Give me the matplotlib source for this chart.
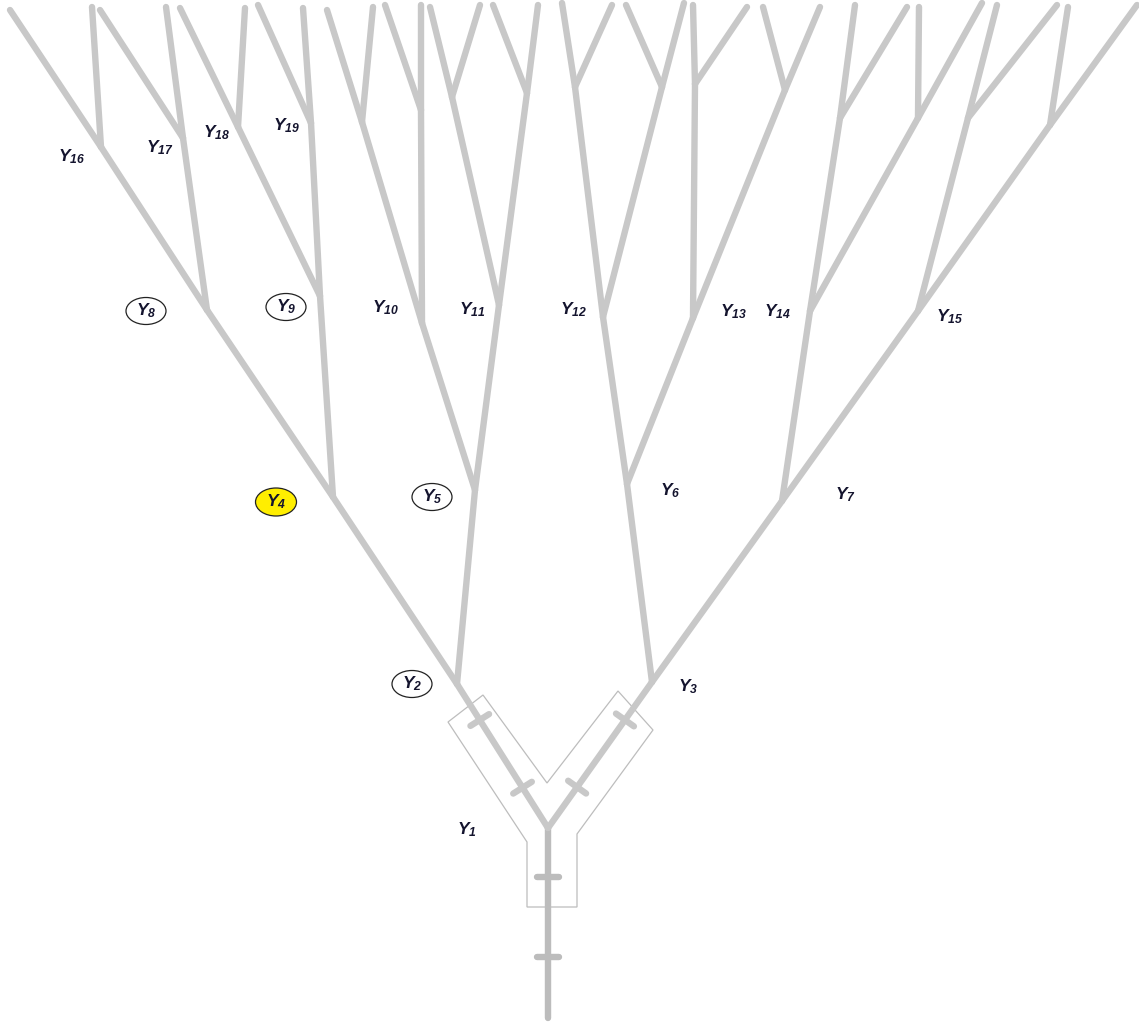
import matplotlib
matplotlib.use("Agg")
import matplotlib.pyplot as plt
from matplotlib.patches import Ellipse, Polygon

plt.rcParams['mathtext.fontset'] = 'custom'
plt.rcParams['mathtext.rm'] = 'Liberation Sans:bold:italic'
plt.rcParams['mathtext.it'] = 'Liberation Sans:bold:italic'
plt.rcParams['mathtext.bf'] = 'Liberation Sans:bold:italic'

# ---------------- data ----------------
root_xy = (548, 1018)

node_names = ['Y1', 'Y2', 'Y3', 'Y4', 'Y5', 'Y6', 'Y7', 'Y8', 'Y9', 'Y10', 'Y11',
              'Y12', 'Y13', 'Y14', 'Y15', 'Y16', 'Y17', 'Y18', 'Y19', 'Y20', 'Y21',
              'Y22', 'Y23', 'Y24', 'Y25', 'Y26', 'Y27', 'Y28', 'Y29', 'Y30', 'Y31']
node_x = [548, 457, 652, 333, 475, 627, 782, 207, 320, 422, 499,
          603, 693, 810, 918, 101, 183, 238, 311, 362, 421,
          452, 527, 575, 662, 695, 785, 840, 918, 968, 1050]
node_y = [828, 684, 682, 497, 490, 484, 501, 310, 296, 323, 305,
          317, 318, 311, 311, 147, 138, 127, 123, 122, 110,
          97, 93, 87, 87, 84, 90, 118, 118, 118, 125]
node_parent = ['root', 'Y1', 'Y1', 'Y2', 'Y2', 'Y3', 'Y3', 'Y4', 'Y4', 'Y5', 'Y5',
               'Y6', 'Y6', 'Y7', 'Y7', 'Y8', 'Y8', 'Y9', 'Y9', 'Y10', 'Y10',
               'Y11', 'Y11', 'Y12', 'Y12', 'Y13', 'Y13', 'Y14', 'Y14', 'Y15', 'Y15']

leaf_parent = ['Y16', 'Y16', 'Y17', 'Y17', 'Y18', 'Y18', 'Y19', 'Y19',
               'Y20', 'Y20', 'Y21', 'Y21', 'Y22', 'Y22', 'Y23', 'Y23',
               'Y24', 'Y24', 'Y25', 'Y25', 'Y26', 'Y26', 'Y27', 'Y27',
               'Y28', 'Y28', 'Y29', 'Y29', 'Y30', 'Y30', 'Y31', 'Y31']
leaf_x = [10, 92, 100, 166, 180, 245, 258, 303,
          327, 373, 385, 421, 430, 480, 493, 538,
          562, 612, 626, 684, 693, 747, 763, 820,
          855, 907, 919, 982, 997, 1057, 1068, 1137]
leaf_y = [10, 7, 10, 7, 8, 8, 5, 8,
          10, 7, 5, 5, 7, 5, 5, 5,
          3, 5, 5, 3, 5, 7, 7, 7,
          5, 7, 7, 3, 5, 5, 7, 5]

# labels shown on the chart
label_text = ['Y1', 'Y2', 'Y3', 'Y4', 'Y5', 'Y6', 'Y7', 'Y8', 'Y9', 'Y10',
              'Y11', 'Y12', 'Y13', 'Y14', 'Y15', 'Y16', 'Y17', 'Y18', 'Y19']
label_x = [467, 412, 688, 276, 432, 670, 845, 146, 286, 385,
           472, 573, 733, 777, 950, 72, 160, 217, 287]
label_y = [830, 684, 687, 502, 497, 491, 495, 311, 307, 308,
           310, 310, 312, 312, 317, 157, 148, 133, 126]
label_style = ['plain', 'circle', 'plain', 'yellow', 'circle', 'plain', 'plain',
               'circle', 'circle', 'plain', 'plain', 'plain', 'plain', 'plain',
               'plain', 'plain', 'plain', 'plain', 'plain']

# cross marks on the first branches: (parent, child, fraction from parent)
mark_edges = [('root', 'Y1', 0.32), ('root', 'Y1', 0.74),
              ('Y1', 'Y2', 0.28), ('Y1', 'Y2', 0.75),
              ('Y1', 'Y3', 0.28), ('Y1', 'Y3', 0.74)]

outline_x = [527, 527, 448, 483, 547, 618, 653, 577, 577]
outline_y = [907, 842, 722, 695, 783, 691, 730, 834, 907]

# ---------------- drawing ----------------
W, H = 1139, 1022
fig = plt.figure(figsize=(W / 100, H / 100), dpi=100)
ax = fig.add_axes([0, 0, 1, 1])
ax.set_xlim(0, W)
ax.set_ylim(H, 0)
ax.axis('off')

pos = {'root': root_xy}
for n, x, y in zip(node_names, node_x, node_y):
    pos[n] = (x, y)

tree_col = '#c8c8c8'
trunk_col = '#bcbcbc'
lw = 4.6

# outline polygon
ax.add_patch(Polygon(list(zip(outline_x, outline_y)), closed=True, fill=False,
                     edgecolor='#bdbdbd', lw=0.9, zorder=1))

for n, p in zip(node_names, node_parent):
    (x0, y0), (x1, y1) = pos[p], pos[n]
    col = trunk_col if p == 'root' else tree_col
    ax.plot([x0, x1], [y0, y1], color=col, lw=lw, solid_capstyle='round', zorder=2)

for p, x, y in zip(leaf_parent, leaf_x, leaf_y):
    x0, y0 = pos[p]
    ax.plot([x0, x], [y0, y], color=tree_col, lw=lw, solid_capstyle='round', zorder=2)

# cross marks
for p, c, t in mark_edges:
    (x0, y0), (x1, y1) = pos[p], pos[c]
    mx, my = x0 + (x1 - x0) * t, y0 + (y1 - y0) * t
    dx, dy = x1 - x0, y1 - y0
    L = (dx * dx + dy * dy) ** 0.5
    px, py = -dy / L, dx / L
    h = 11
    col = trunk_col if p == 'root' else tree_col
    ax.plot([mx - px * h, mx + px * h], [my - py * h, my + py * h], color=col,
            lw=lw, solid_capstyle='round', zorder=3)

# labels
txt_col = '#14142e'
for t, x, y, s in zip(label_text, label_x, label_y, label_style):
    if s == 'circle':
        ax.add_patch(Ellipse((x, y), 40, 27, facecolor='white', edgecolor='#222222',
                             lw=0.9, zorder=4))
    elif s == 'yellow':
        ax.add_patch(Ellipse((x, y), 41, 28, facecolor='#ffee00', edgecolor='#222222',
                             lw=0.9, zorder=4))
    label = r'$Y_{%s}$' % t[1:]
    ax.text(x, y, label, ha='center', va='center', fontsize=12.5, color=txt_col,
            zorder=5)

fig.savefig('out.png', dpi=100, facecolor='white')
